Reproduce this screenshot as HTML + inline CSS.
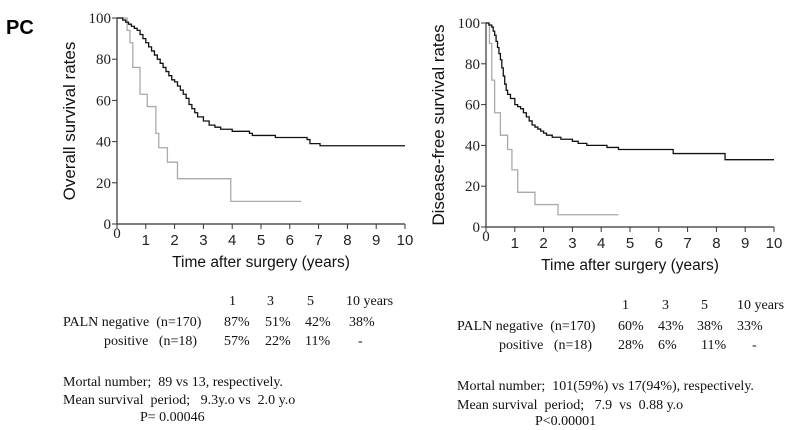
<!DOCTYPE html>
<html><head><meta charset="utf-8"><style>
body{margin:0;background:#fff;width:796px;height:430px;overflow:hidden}
svg{display:block}
text{white-space:pre}
.ax{font-family:"Liberation Serif",serif;font-size:15px;fill:#222}
.xt{font-family:"Liberation Sans",sans-serif;font-size:15px;fill:#222}
.tt{font-family:"Liberation Sans",sans-serif;font-size:15.5px;fill:#111}
.tx{font-family:"Liberation Serif",serif;font-size:14px;fill:#111}
</style></head><body>
<svg id="s" width="796" height="430">
<text x="6" y="34" font-family="Liberation Sans,sans-serif" font-weight="bold" font-size="20">PC</text>
</svg>
<script>
const leftNegT=[0,0.2,0.3,0.4,0.5,0.6,0.7,0.8,0.9,1.0,1.1,1.2,1.3,1.4,1.5,1.6,1.7,1.8,1.9,2.0,2.1,2.2,2.3,2.4,2.5,2.6,2.7,2.8,3.0,3.2,3.4,3.6,3.8,4.0,4.3,4.6,4.7,5.5,6.0,6.6,6.7,7.05,10];
const leftNegS=[100,99,98,97,96,95,94,92,90,88,86,84,82,80,78,76,74,72,70,69,67,65,63,61,58,56,54,52,50,48,47,46,46,45,45,44,43,42,42,41,39,38,38];
const leftPosT=[0,0.35,0.45,0.55,0.8,1.05,1.35,1.45,1.75,2.1,3.95,6.4];
const leftPosS=[100,94,88,76,63,57,44,37,30,22,11,11];
const rightNegT=[0,0.1,0.2,0.25,0.3,0.35,0.4,0.45,0.5,0.55,0.6,0.65,0.7,0.75,0.85,1.0,1.1,1.2,1.3,1.4,1.5,1.6,1.7,1.8,1.9,2.0,2.1,2.3,2.6,3.0,3.2,3.5,4.2,4.6,6.5,8.3,10];
const rightNegS=[100,99,98,96,94,91,88,85,82,78,74,70,67,65,63,60,59,58,56,54,52,50,49,48,47,46,45,44,43,42,41,40,39,38,36,33,33];
const rightPosT=[0,0.12,0.2,0.3,0.5,0.75,0.9,1.1,1.7,2.5,4.6];
const rightPosS=[100,90,72,56,45,38,28,17,11,6,6];
const xTicks=[0,1,2,3,4,5,6,7,8,9,10];
const yTicks=[0,20,40,60,80,100];
const NS="http://www.w3.org/2000/svg";
const svg=document.getElementById('s');
function el(t,a,txt){const e=document.createElementNS(NS,t);for(const k in a)e.setAttribute(k,a[k]);if(txt!==undefined)e.textContent=txt;svg.appendChild(e);return e;}
function chart(px,x0,x1,y0,y1,ytitle,negT,negS,posT,posS){
  const sx=v=>x0+(x1-x0)*v/10, sy=v=>y0-(y0-y1)*v/100;
  let a=el('line',{x1:x0,y1:y0,x2:x1,y2:y0,stroke:'#333','stroke-width':1.2});
  
  a=el('line',{x1:x0,y1:y0,x2:x0,y2:y1,stroke:'#333','stroke-width':1.2});
  
  xTicks.forEach(t=>{
    el('line',{x1:sx(t),y1:y0,x2:sx(t),y2:y0+5,stroke:'#333'});
    const lb=el('text',{x:sx(t),y:y0+(t===0?14:21),'text-anchor':'middle',class:t===0?'ax':'xt'},String(t));
    
  });
  yTicks.forEach(t=>{
    el('line',{x1:x0-5,y1:sy(t),x2:x0,y2:sy(t),stroke:'#333'});
    const lb=el('text',{x:x0-6,y:sy(t)+5,'text-anchor':'end',class:'ax'},String(t));
    
  });
  const xt=el('text',{x:(x0+x1)/2,y:y0+43,'text-anchor':'middle',class:'tt'},'Time after surgery (years)');
  
  const yt=el('text',{transform:`translate(${x0-42},${(y0+y1)/2}) rotate(-90)`,'text-anchor':'middle',class:'tt',style:'font-size:17px'},ytitle);
  
  function step(T,S,col,name){
    let d=`M${sx(T[0])},${sy(S[0])}`;
    for(let i=1;i<T.length;i++){d+=`H${sx(T[i])}V${sy(S[i])}`;}
    const p=el('path',{d,fill:'none',stroke:col,'stroke-width':1.3});
    
  }
  step(posT,posS,'#aaa',px+'-positive-curve');
  step(negT,negS,'#111',px+'-negative-curve');
}
chart('os',117,405,224,18,'Overall survival rates',leftNegT,leftNegS,leftPosT,leftPosS);
chart('dfs',486,774,227,23,'Disease-free survival rates',rightNegT,rightNegS,rightPosT,rightPosS);
function table(px,ys,rows){
  rows.forEach((r,i)=>{r.forEach(c=>{const t=el('text',{x:c[0],y:ys[i],class:'tx'},c[1]);
    });});
}
table('os',[305,326,345,386,404,421],[
 [[229,'1'],[267,'3'],[307,'5'],[346,'10 years']],
 [[63,'PALN negative  (n=170)'],[224,'87%'],[265,'51%'],[305,'42%'],[349,'38%']],
 [[104,'positive   (n=18)'],[224,'57%'],[265,'22%'],[305,'11%'],[358,'-']],
 [[63,'Mortal number;  89 vs 13, respectively.']],
 [[63,'Mean survival  period;   9.3y.o vs  2.0 y.o']],
 [[140,'P= 0.00046']]
]);
table('dfs',[309,330,349,390,409,425],[
 [[622,'1'],[662,'3'],[701,'5'],[737,'10 years']],
 [[457,'PALN negative  (n=170)'],[618,'60%'],[658,'43%'],[697,'38%'],[737,'33%']],
 [[499,'positive   (n=18)'],[618,'28%'],[658,'6%'],[701,'11%'],[752,'-']],
 [[457,'Mortal number;  101(59%) vs 17(94%), respectively.']],
 [[457,'Mean survival  period;   7.9  vs  0.88 y.o']],
 [[535,'P<0.00001']]
]);
</script>
</body></html>
